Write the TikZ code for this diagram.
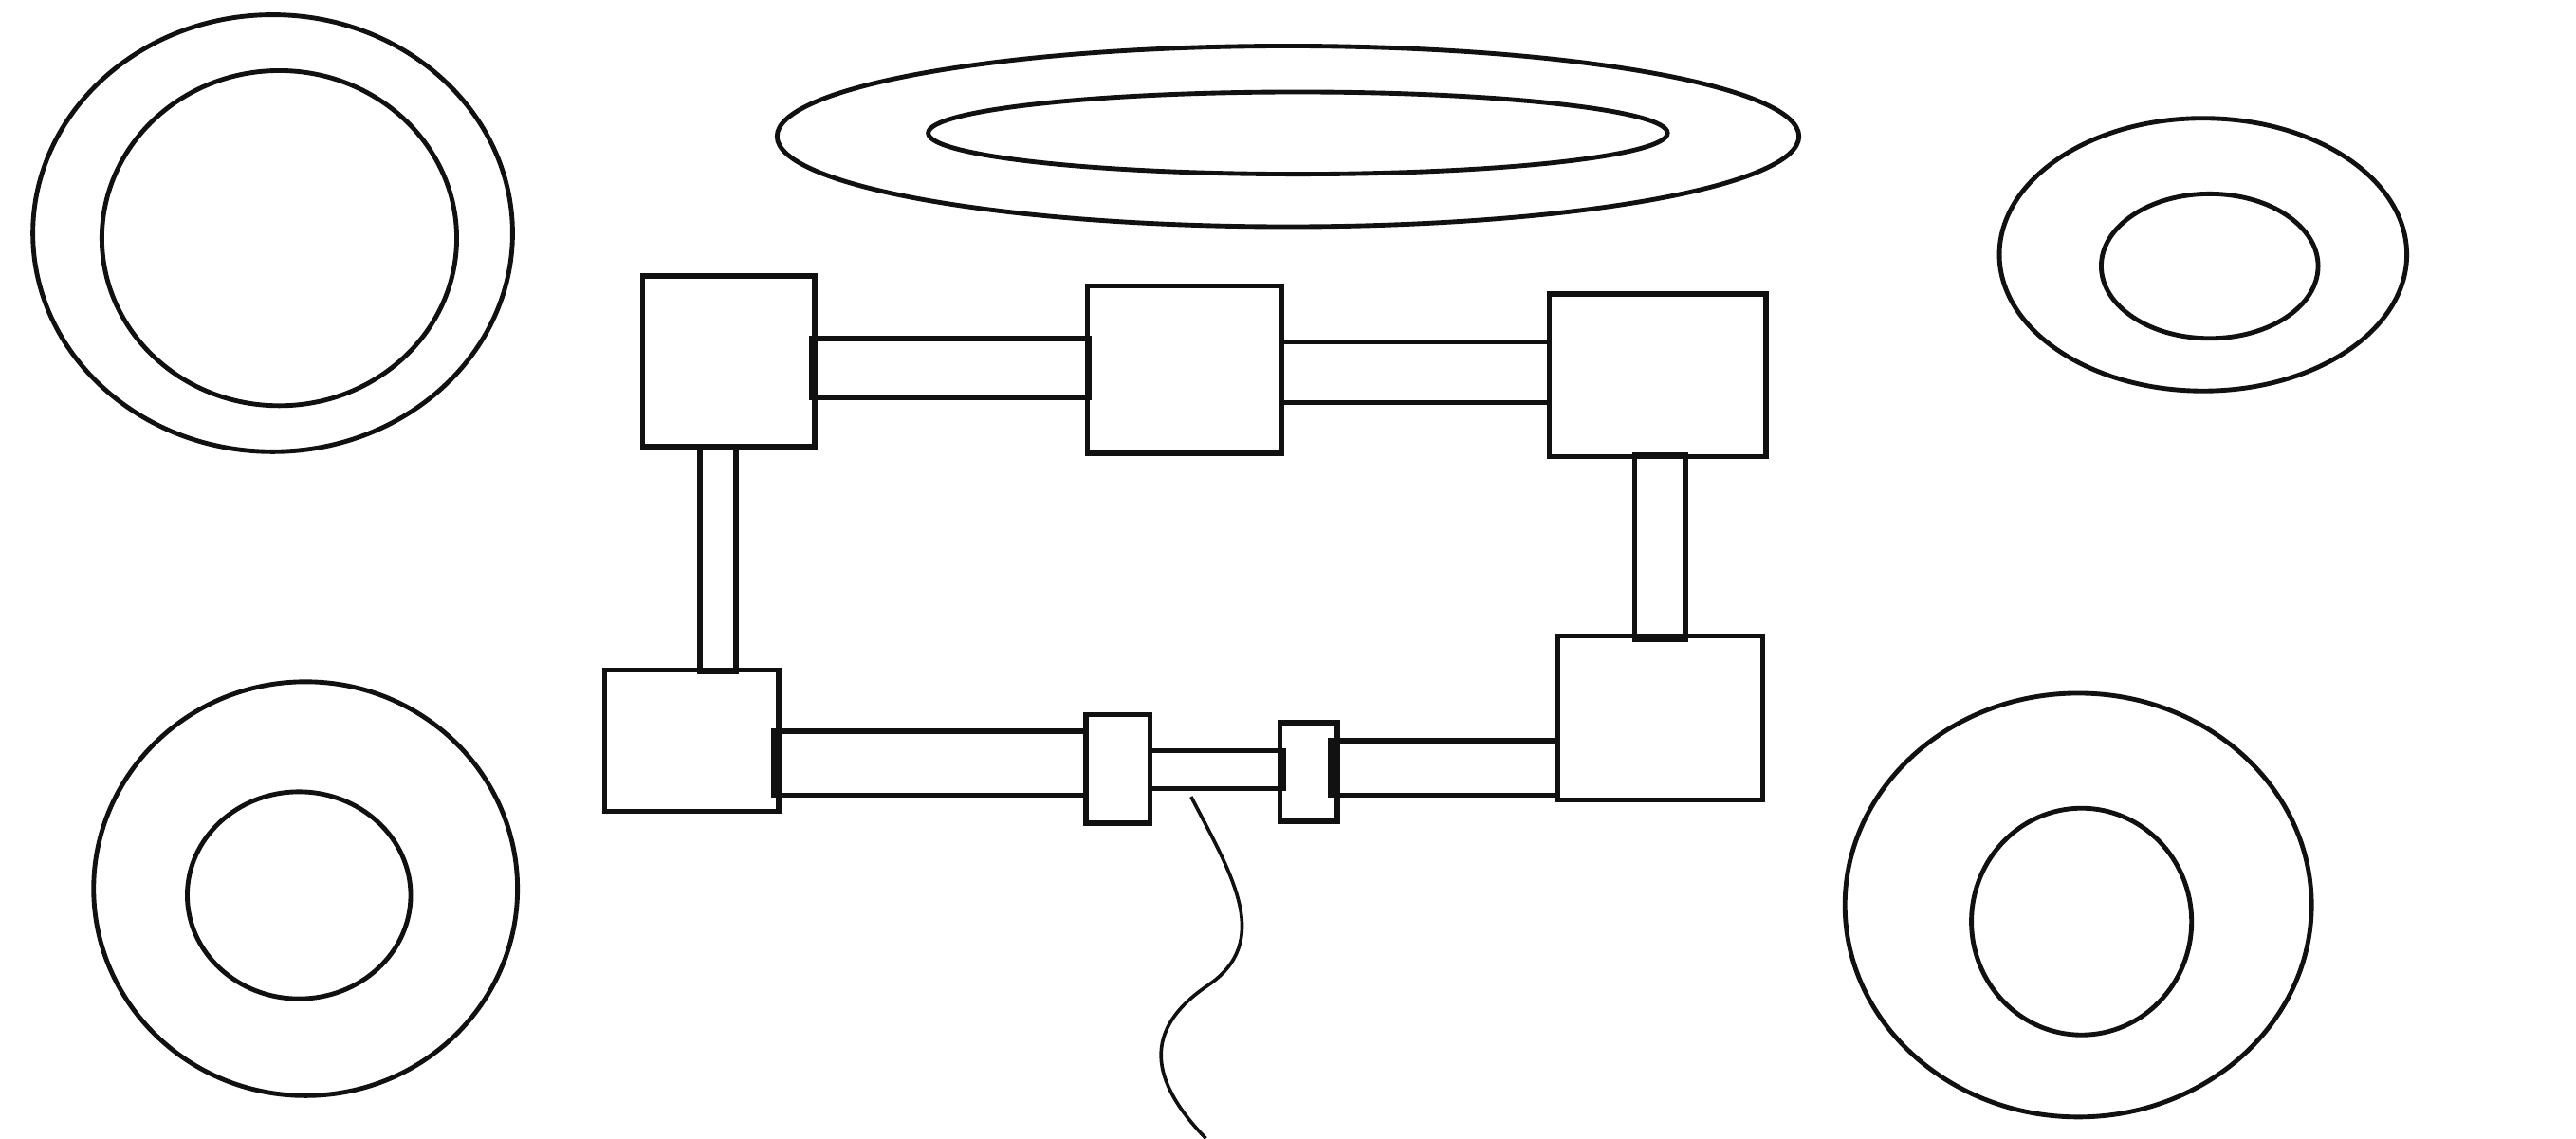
\documentclass[tikz,border=0pt]{standalone}
\usetikzlibrary{shapes.geometric}
\definecolor{ink}{HTML}{111111}

\begin{document}
\begin{tikzpicture}[
      ring/.style={draw=ink, line width=0.8pt, ellipse, inner sep=0pt},
      block/.style={draw=ink, line width=0.9pt, fill=white, inner sep=0pt, outer sep=0pt},
      bar/.style={draw=ink, line width=0.9pt},
      cable/.style={draw=ink, line width=0.6pt}]
    \useasboundingbox (0,0) rectangle (15.68,6.93);

    % rings (outer and inner)
    \node[ring, minimum width=2.92cm, minimum height=2.66cm] (RtlO) at (1.66,5.51) {};
    \node[ring, minimum width=2.16cm, minimum height=2.04cm] (RtlI) at (1.70,5.48) {};
    \node[ring, minimum width=6.22cm, minimum height=1.10cm] (RtO) at (7.84,6.10) {};
    \node[ring, minimum width=4.50cm, minimum height=0.50cm] (RtI) at (7.90,6.12) {};
    \node[ring, minimum width=2.48cm, minimum height=1.66cm] (RtrO) at (13.41,5.38) {};
    \node[ring, minimum width=1.32cm, minimum height=0.88cm] (RtrI) at (13.45,5.31) {};
    \node[ring, minimum width=2.58cm, minimum height=2.52cm] (RblO) at (1.86,1.52) {};
    \node[ring, minimum width=1.36cm, minimum height=1.26cm] (RblI) at (1.82,1.48) {};
    \node[ring, minimum width=2.84cm, minimum height=2.58cm] (RbrO) at (12.65,1.42) {};
    \node[ring, minimum width=1.34cm, minimum height=1.38cm] (RbrI) at (12.67,1.32) {};

    % blocks of the frame
    \node[block, minimum width=1.05cm, minimum height=1.04cm] (Btl) at (4.435,4.73) {};
    \node[block, minimum width=1.18cm, minimum height=1.02cm] (Btm) at (7.21,4.68) {};
    \node[block, minimum width=1.32cm, minimum height=0.99cm] (Btr) at (10.09,4.645) {};
    \node[block, minimum width=1.06cm, minimum height=0.86cm] (Bbl) at (4.21,2.42) {};
    \node[block, minimum width=1.25cm, minimum height=1.00cm] (Bbr) at (10.105,2.56) {};
    \node[block, minimum width=0.39cm, minimum height=0.66cm] (Sl) at (6.805,2.25) {};
    \node[block, minimum width=0.35cm, minimum height=0.60cm] (Sr) at (7.965,2.23) {};

    % bars between blocks (ends lap a little over the blocks)
    \draw[bar] ([xshift=-0.02cm]Btl.east |- 0,4.87) rectangle ([xshift=0.01cm]Btm.west |- 0,4.51);
    \draw[bar] (Btm.east |- 0,4.85) rectangle (Btr.west |- 0,4.48);
    \draw[bar] (4.26,0 |- Btl.south) rectangle ([yshift=-0.01cm]4.48,0 |- Bbl.north);
    \draw[bar] ([yshift=0.01cm]9.95,0 |- Btr.south) rectangle ([yshift=-0.02cm]10.26,0 |- Bbr.north);
    \draw[bar] ([xshift=-0.03cm]Bbl.east |- 0,2.48) rectangle (Sl.west |- 0,2.09);
    \draw[bar] (Sl.east |- 0,2.36) rectangle ([xshift=0.02cm]Sr.west |- 0,2.13);
    \draw[bar] ([xshift=-0.04cm]Sr.east |- 0,2.42) rectangle (Bbr.west |- 0,2.09);

    % cable hanging below
    \coordinate (cableTop) at (7.25,2.08);
    \coordinate (cableEnd) at (7.34,0);
    \draw[cable] (cableTop) .. controls (7.5,1.6) and (7.75,1.2) .. (7.35,0.93)
                 .. controls (6.95,0.66) and (7.0,0.35) .. (cableEnd);
  \end{tikzpicture}
\end{document}
